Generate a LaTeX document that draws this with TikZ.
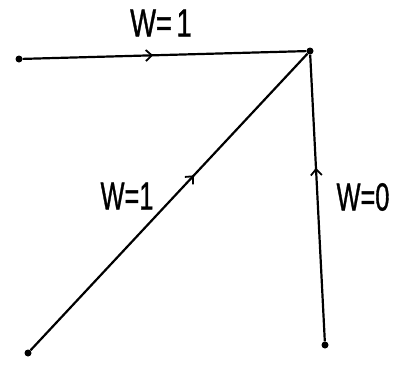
\documentclass[tikz,border=0pt]{standalone}
\usepackage{fontspec}
\setmainfont{Liberation Sans}
\newfontfamily\lblfont[FakeBold=1.2]{Liberation Sans}
\usetikzlibrary{arrows.meta,decorations.markings}
\begin{document}
\begin{tikzpicture}[x=1pt,y=-1pt,
  dot/.style={circle,fill=black,inner sep=0pt,minimum size=7pt},
  edge/.style={line width=2.2pt,
    decoration={markings,mark=at position #1 with {\arrow{Straight Barb[length=6pt,width=11pt,line width=1.8pt]}}},
    postaction={decorate}},
  lbl/.style={inner sep=0pt,font=\lblfont\fontsize{39}{39}\selectfont,xscale=0.65}]
\useasboundingbox (0,0) rectangle (401,364);
\node[dot] (L) at (19,59) {};
\node[dot] (T) at (310,51) {};
\node[dot] (BL) at (28,353) {};
\node[dot] (BR) at (325,345) {};
\draw[edge=0.46] (L) -- (T);
\draw[edge=0.59] (BL) -- (T);
\draw[edge=0.605] (BR) -- (T);
\node[lbl,xscale=1.08] (l1) at (161,23) {W=\,1};
\node[lbl] (l2) at (127,196) {W=1};
\node[lbl] (l3) at (363,197) {W=0};
\end{tikzpicture}
\end{document}
